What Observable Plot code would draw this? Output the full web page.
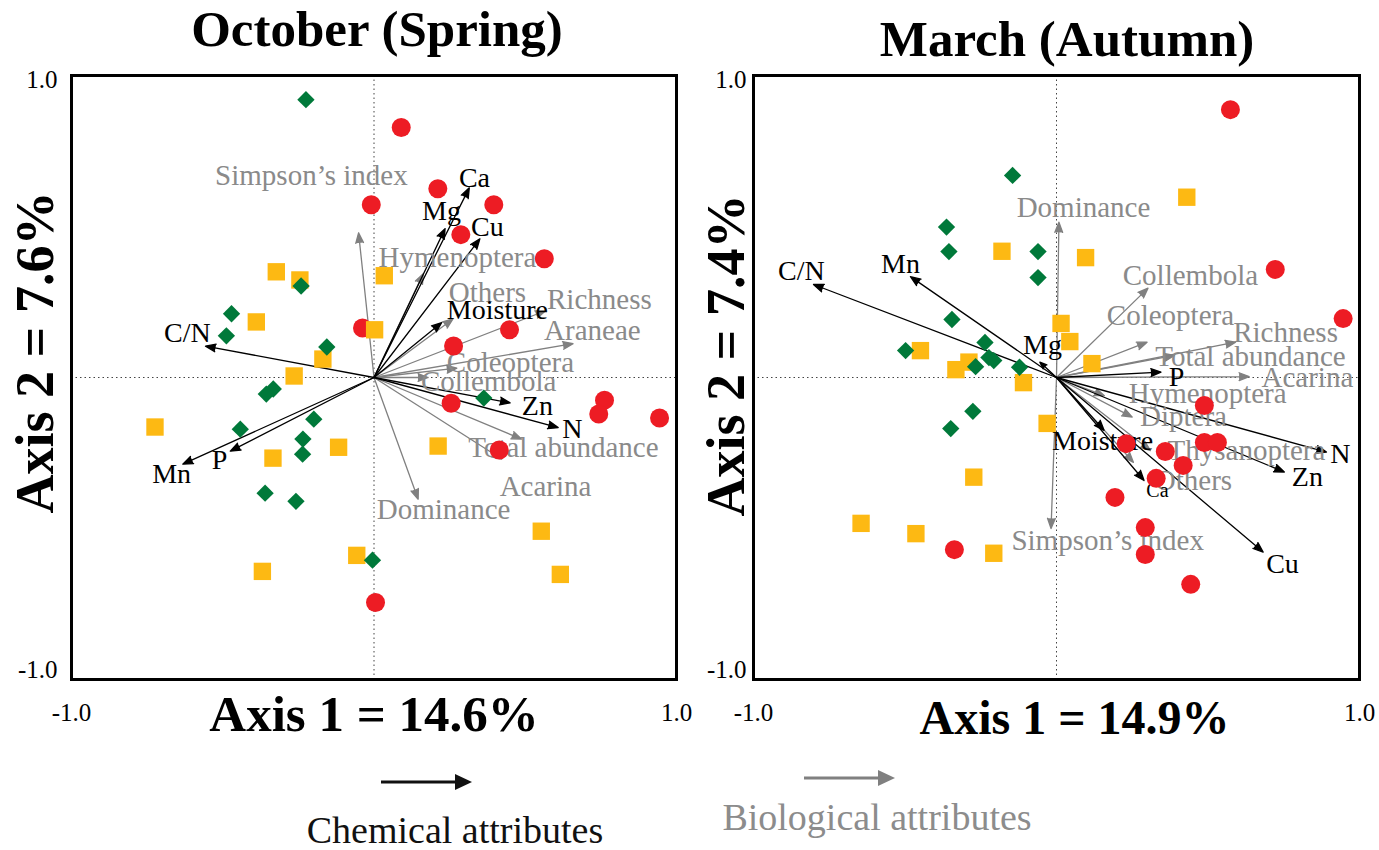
<!DOCTYPE html>
<html>
<head>
<meta charset="utf-8">
<script src="https://cdn.jsdelivr.net/npm/d3@7"></script>
<script src="https://cdn.jsdelivr.net/npm/@observablehq/plot@0.6"></script>
<style>
  body { margin: 0; background: #fff; }
  #root { position: relative; width: 1379px; height: 850px; overflow: hidden; background: #fff;
          font-family: "Liberation Serif", "Times New Roman", serif; }
  .title { position: absolute; font-weight: bold; font-size: 51px; line-height: 51px; white-space: nowrap; transform: translateX(-50%); color: #000; }
  .panel { position: absolute; top: 60px; }
  .legtext { position: absolute; font-size: 38px; line-height: 38px; white-space: nowrap; transform: translateX(-50%); }
</style>
</head>
<body>
<div id="root">
  <div class="title" id="t1" style="left:377px; top:4px;"></div>
  <div class="title" id="t2" style="left:1067px; top:14px;"></div>
  <div class="panel" id="p1" style="left:0px;"></div>
  <div class="panel" id="p2" style="left:690px;"></div>
  <svg id="legend" style="position:absolute; left:0; top:760px;" width="1379" height="40">
    <line x1="381" y1="22" x2="458" y2="22" stroke="#111" stroke-width="3"/>
    <polygon points="472,22 455,14 455,30" fill="#111"/>
    <line x1="804" y1="18" x2="881" y2="18" stroke="#808080" stroke-width="3"/>
    <polygon points="895,18 878,10 878,26" fill="#808080"/>
  </svg>
  <div class="legtext" id="l1" style="left:455px; top:811px; color:#111;"></div>
  <div class="legtext" id="l2" style="left:877px; top:798px; color:#8c8c8c;"></div>
</div>
<script>
// ---------- titles / labels ----------
const panelTitles = ["October (Spring)", "March (Autumn)"];
const xAxisTitles = ["Axis 1 = 14.6%", "Axis 1 = 14.9%"];
const yAxisTitles = ["Axis 2 = 7.6%", "Axis 2 = 7.4%"];
const legendLabels = ["Chemical attributes", "Biological attributes"];
const axisTicks = [-1, 1];

// ---------- October (Spring) ----------
const octRed = [[0.090,0.828],[0.211,0.625],[-0.009,0.572],[0.396,0.572],[0.287,0.473],[0.563,0.393],
  [-0.038,0.164],[0.448,0.158],[0.263,0.104],[0.255,-0.085],[0.762,-0.075],[0.743,-0.121],
  [0.944,-0.134],[0.414,-0.240],[0.005,-0.745]];
const octYellow = [[-0.323,0.350],[-0.245,0.323],[0.034,0.337],[-0.389,0.184],[0.002,0.158],[-0.169,0.061],
  [-0.264,0.005],[-0.724,-0.164],[-0.334,-0.267],[-0.117,-0.231],[0.212,-0.227],[0.553,-0.509],
  [0.616,-0.652],[-0.057,-0.589],[-0.369,-0.642]];
const octGreen = [[-0.225,0.920],[-0.241,0.303],[-0.471,0.211],[-0.488,0.138],[-0.156,0.101],[-0.333,-0.038],
  [-0.356,-0.055],[-0.442,-0.171],[-0.199,-0.138],[-0.235,-0.204],[-0.236,-0.254],[-0.360,-0.383],
  [-0.258,-0.410],[-0.005,-0.605],[0.363,-0.068]];
// [name, arrow x, arrow y, label x, label y]
const octChem = [
  ["Ca", 0.315, 0.628, 0.332, 0.662],
  ["Mg", 0.235, 0.493, 0.223, 0.550],
  ["Cu", 0.350, 0.459, 0.375, 0.497],
  ["Moisture", 0.224, 0.182, 0.408, 0.225],
  ["Zn", 0.450, -0.084, 0.540, -0.093],
  ["N", 0.609, -0.166, 0.656, -0.169],
  ["C/N", -0.557, 0.104, -0.617, 0.146],
  ["P", -0.475, -0.244, -0.511, -0.272],
  ["Mn", -0.632, -0.287, -0.669, -0.321]
];
const octBio = [
  ["Simpson’s index", -0.051, 0.479, -0.207, 0.669],
  ["Hymenoptera", 0.163, 0.344, 0.276, 0.397],
  ["Others", 0.261, 0.194, 0.375, 0.281],
  ["Richness", 0.567, 0.221, 0.745, 0.258],
  ["Araneae", 0.658, 0.112, 0.722, 0.156],
  ["Coleoptera", 0.274, 0.031, 0.451, 0.050],
  ["Collembola", 0.179, 0.000, 0.379, -0.013],
  ["Total abundance", 0.488, -0.204, 0.626, -0.232],
  ["Acarina", 0.422, -0.270, 0.567, -0.361],
  ["Dominance", 0.146, -0.403, 0.230, -0.437]
];

// ---------- March (Autumn) ----------
const marRed = [[0.574,0.887],[0.722,0.358],[0.946,0.195],[0.488,-0.093],[0.488,-0.215],[0.531,-0.215],
  [0.359,-0.245],[0.230,-0.219],[0.418,-0.291],[0.329,-0.334],[0.193,-0.397],[0.293,-0.497],
  [0.293,-0.586],[0.443,-0.685],[-0.337,-0.570]];
const marYellow = [[0.430,0.597],[-0.180,0.418],[0.096,0.397],[0.015,0.179],[0.044,0.119],[-0.449,0.089],
  [-0.289,0.051],[-0.332,0.026],[0.117,0.046],[-0.109,-0.017],[-0.031,-0.152],[-0.273,-0.330],
  [-0.645,-0.483],[-0.464,-0.517],[-0.207,-0.582]];
const marGreen = [[-0.145,0.669],[-0.363,0.498],[-0.355,0.417],[-0.061,0.417],[-0.061,0.331],[-0.345,0.192],
  [-0.236,0.116],[-0.223,0.066],[-0.207,0.056],[-0.498,0.089],[-0.267,0.036],[-0.122,0.034],
  [-0.276,-0.112],[-0.349,-0.169]];
const marChem = [
  ["C/N", -0.802, 0.308, -0.842, 0.354],
  ["Mn", -0.482, 0.334, -0.515, 0.377],
  ["Mg", -0.055, 0.051, -0.046, 0.106],
  ["P", 0.345, 0.018, 0.396, 0.003],
  ["N", 0.891, -0.247, 0.937, -0.252],
  ["Zn", 0.752, -0.313, 0.828, -0.331],
  ["Cu", 0.682, -0.578, 0.746, -0.616],
  ["Ca", 0.289, -0.341, 0.333, -0.374],
  ["Moisture", 0.157, -0.175, 0.152, -0.212]
];
const marBio = [
  ["Dominance", 0.008, 0.514, 0.089, 0.563],
  ["Collembola", 0.302, 0.296, 0.442, 0.338],
  ["Coleoptera", 0.299, 0.117, 0.376, 0.205],
  ["Richness", 0.591, 0.117, 0.756, 0.149],
  ["Total abundance", 0.389, 0.073, 0.640, 0.070],
  ["Acarina", 0.636, 0.003, 0.828, 0.000],
  ["Hymenoptera", 0.158, -0.060, 0.499, -0.053],
  ["Diptera", 0.250, -0.131, 0.419, -0.129],
  ["Thysanoptera", 0.310, -0.242, 0.627, -0.242],
  ["Others", 0.254, -0.281, 0.452, -0.341],
  ["Simpson’s index", -0.018, -0.500, 0.169, -0.540]
];

const RED = "#ED1C24", YELLOW = "#FDB913", GREEN = "#00793A", GRAY = "#808080", GRAYTXT = "#8a8a8a";
const fmt = d => d.toFixed(1);

function panel(o) {
  return Plot.plot({
    width: o.width, height: 690,
    marginLeft: o.mL, marginRight: o.mR, marginTop: 15, marginBottom: 71,
    x: {domain: [-1, 1], axis: null},
    y: {domain: [-1, 1], axis: null},
    style: {fontFamily: "Liberation Serif, Times New Roman, serif", background: "none", overflow: "visible"},
    marks: [
      Plot.ruleX([0], {stroke: "#444", strokeWidth: 1, strokeDasharray: "1.5,3"}),
      Plot.ruleY([0], {stroke: "#444", strokeWidth: 1, strokeDasharray: "1.5,3"}),
      Plot.arrow(o.bio, {x1: 0, y1: 0, x2: d => d[1], y2: d => d[2], stroke: GRAY, fill: GRAY,
        strokeWidth: 1.3, headLength: 12.5, headAngle: 42}),
      Plot.arrow(o.chem, {x1: 0, y1: 0, x2: d => d[1], y2: d => d[2], stroke: "#000", fill: "#000",
        strokeWidth: 1.3, headLength: 12.5, headAngle: 42}),
      Plot.text(o.bio, {x: d => d[3], y: d => d[4], text: d => d[0], fill: GRAYTXT, fontSize: 29}),
      Plot.text(o.chem, {x: d => d[3], y: d => d[4], text: d => d[0], fill: "#000",
        fontSize: d => (o.small && o.small.includes(d[0])) ? 20 : 28}),
      Plot.dot(o.red, {x: d => d[0], y: d => d[1], r: 9.5, symbol: "circle", fill: RED}),
      Plot.dot(o.yellow, {x: d => d[0], y: d => d[1], r: 9.8, symbol: "square", fill: YELLOW}),
      Plot.dot(o.green, {x: d => d[0], y: d => d[1], r: 7.8, symbol: "diamond2", fill: GREEN}),
      Plot.frame({stroke: "#000", strokeWidth: 3}),
      // tick labels
      Plot.text(axisTicks, {x: d => d, frameAnchor: "bottom", dy: 33, lineAnchor: "middle", textAnchor: "middle",
        text: fmt, fontSize: 25, fill: "#000"}),
      Plot.text(axisTicks.filter(d => d > 0), {y: d => d, frameAnchor: "left", dx: o.yTickDx, dy: -5, textAnchor: "end",
        lineAnchor: "top", text: fmt, fontSize: 25, fill: "#000"}),
      Plot.text(axisTicks.filter(d => d < 0), {y: d => d, frameAnchor: "left", dx: o.yTickDx, dy: -2, textAnchor: "end",
        lineAnchor: "bottom", text: fmt, fontSize: 25, fill: "#000"}),
      // axis titles
      Plot.text([o.yTitle], {frameAnchor: "left", dx: o.yTdx, dy: o.yTdy, rotate: -90, text: d => d,
        textAnchor: "middle", lineAnchor: "middle",
        fontSize: o.yTsize, fontWeight: "bold", fill: "#000"}),
      Plot.text([o.xTitle], {frameAnchor: "bottom", dx: o.xTdx, dy: o.xTdy, text: d => d,
        textAnchor: "middle", lineAnchor: "middle",
        fontSize: o.xTsize, fontWeight: "bold", fill: "#000"})
    ]
  });
}

document.getElementById("t1").textContent = panelTitles[0];
document.getElementById("t2").textContent = panelTitles[1];
document.getElementById("l1").textContent = legendLabels[0];
document.getElementById("l2").textContent = legendLabels[1];

document.getElementById("p1").append(panel({
  width: 690, mL: 71, mR: 14, red: octRed, yellow: octYellow, green: octGreen, chem: octChem, bio: octBio,
  yTickDx: -14, yTitle: yAxisTitles[0], yTdx: -36, yTdy: -25, yTsize: 54,
  xTitle: xAxisTitles[0], xTdx: 0, xTdy: 35, xTsize: 51
}));
document.getElementById("p2").append(panel({
  width: 689, mL: 63, mR: 20, red: marRed, yellow: marYellow, green: marGreen, chem: marChem, bio: marBio,
  small: ["Ca"],
  yTickDx: -7, yTitle: yAxisTitles[1], yTdx: -27, yTdy: -22, yTsize: 54,
  xTitle: xAxisTitles[1], xTdx: 18, xTdy: 39, xTsize: 48
}));
</script>
</body>
</html>
